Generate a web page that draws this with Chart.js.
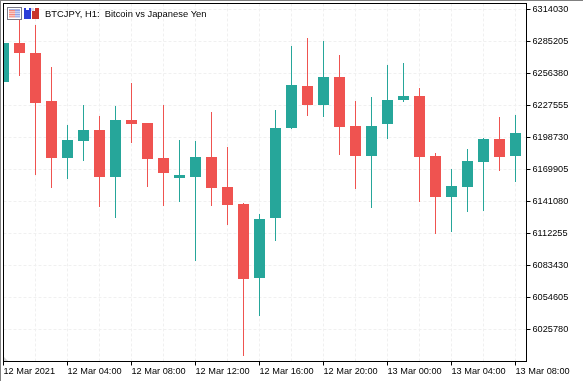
<!DOCTYPE html>
<html><head><meta charset="utf-8">
<style>
html,body{margin:0;padding:0;background:#fff;overflow:hidden}
#w{position:absolute;left:0;top:0;width:583px;height:381px}
canvas{display:block}
</style>
<script src="https://cdn.jsdelivr.net/npm/chart.js@4/dist/chart.umd.min.js"></script>
</head><body><div id="w"><canvas id="c" width="583" height="381"></canvas></div>
<script>
const chartTitle = 'BTCJPY, H1:  Bitcoin vs Japanese Yen';
const hours = [0,1,2,3,4,5,6,7,8,9,10,11,12,13,14,15,16,17,18,19,20,21,22,23,24,25,26,27,28,29,30,31,32];
const opens = [6248723,6283853,6274846,6231608,6180264,6195577,6205486,6163149,6214493,6211791,6180264,6162248,6163149,6181165,6154141,6138828,6072170,6126217,6207287,6245120,6228005,6253227,6209089,6182065,6210890,6232509,6236112,6182065,6145133,6154141,6176661,6197379,6182065];
const highs = [6285000,6311778,6300067,6262235,6209989,6228005,6218097,6227104,6247822,6211791,6228005,6196478,6195577,6221700,6190172,6139729,6129820,6223501,6281151,6288357,6285655,6273044,6231608,6235211,6264036,6265838,6243318,6184768,6170355,6188371,6198279,6217196,6218997];
const lows = [6246000,6254128,6164950,6153240,6161347,6177561,6136126,6126217,6193775,6154141,6137026,6140629,6087483,6137026,6119911,6001909,6037941,6105499,6206386,6218097,6217196,6183000,6152340,6135225,6197379,6230707,6140629,6111804,6113606,6131622,6132522,6168554,6158645];
const closes = [6283853,6274846,6229807,6180264,6196478,6205486,6163149,6214493,6210890,6179363,6166752,6164950,6181165,6153240,6137927,6071269,6125316,6207287,6246021,6228005,6253227,6208188,6182065,6209089,6232509,6236112,6181165,6145133,6155042,6177561,6197379,6181165,6202783];
const priceTicks = [6025780,6054605,6083430,6112255,6141080,6169905,6198730,6227555,6256380,6285205,6314030];
const timeTicks = [0,2,4,6,8,10,12,14,16,18,20,22,24,26,28,30,32];
const timeLabels = ['12 Mar 2021','','12 Mar 04:00','','12 Mar 08:00','','12 Mar 12:00','','12 Mar 16:00','','12 Mar 20:00','','13 Mar 00:00','','13 Mar 04:00','','13 Mar 08:00'];
const UP = '#26A69A', DOWN = '#EF5350';
const colours = opens.map((o,i)=> closes[i] >= o ? UP : DOWN);
const axisFont = {family:'"Liberation Sans"', size:9.2};

const overlay = {
  id:'overlay',
  afterDatasetsDraw(chart){
    const {ctx, chartArea:a} = chart;
    ctx.save();
    ctx.strokeStyle='#000'; ctx.lineWidth=1;
    ctx.strokeRect(a.left,a.top,a.right-a.left,a.bottom-a.top);
    ctx.fillStyle='#d6d6d6';
    ctx.beginPath();ctx.moveTo(4,357);ctx.lineTo(4,361);ctx.lineTo(8,361);ctx.closePath();ctx.fill();
    ctx.fillStyle='#fff';ctx.fillRect(7,7,15,13);
    ctx.strokeStyle='#7a7a86';ctx.strokeRect(7.5,7.5,14,12);
    ctx.fillStyle='#aab4e0';ctx.fillRect(9,9,11,1);
    [[10,'#f08a80','#8fa4e8'],[12,'#f4a096','#a4b4ec'],[14,'#f08a80','#8fa4e8'],[16,'#f4a096','#a4b4ec']].forEach(r=>{
      ctx.fillStyle=r[1];ctx.fillRect(9,r[0],6,1.5);
      ctx.fillStyle=r[2];ctx.fillRect(15,r[0],5,1.5);
    });
    ctx.fillStyle='#2c3fd8';ctx.fillRect(24,8,7,11);
    ctx.fillStyle='#c9342c';ctx.fillRect(32,11,7,8);ctx.fillRect(35,8,4,4);
    ctx.fillStyle='#d8d8e8';ctx.fillRect(31,8,3,3);
    ctx.fillStyle='#fff';ctx.fillRect(26,8,3,2);
    ctx.fillStyle='#000';ctx.font='9.4px "Liberation Sans"';ctx.textBaseline='alphabetic';ctx.textAlign='left';
    ctx.fillText(chartTitle,45,17);
    ctx.restore();
  }
};

new Chart(document.getElementById('c'),{
  type:'bar',
  data:{datasets:[
    {label:'Body',data:hours.map((h,i)=>({x:h,y:[opens[i],closes[i]]})),backgroundColor:colours,barThickness:11,borderWidth:0,inflateAmount:0,grouped:false,order:1},
    {label:'Wick',data:hours.map((h,i)=>({x:h,y:[lows[i],highs[i]]})),backgroundColor:colours,barThickness:1,borderWidth:0,inflateAmount:0,grouped:false,order:2}
  ]},
  plugins:[overlay],
  options:{
    responsive:false,animation:false,devicePixelRatio:1,
    layout:{padding:{left:3.5,top:3.5,right:0,bottom:0}},
    plugins:{legend:{display:false},tooltip:{enabled:false},title:{display:false}},
    scales:{
      x:{type:'linear',min:0,max:32.6875,offset:false,
        afterBuildTicks(s){s.ticks=timeTicks.map(v=>({value:v}));},
        afterFit(s){s.height=19.5;s.paddingLeft=0;s.paddingRight=0;},
        grid:{offset:false,color:'#f0f0f0',lineWidth:1,tickLength:4,tickColor:c=>c.index%2===0?'#000':'rgba(0,0,0,0)'},
        border:{display:false,dash:[3,2]},
        ticks:{autoSkip:false,maxRotation:0,minRotation:0,align:'start',padding:0,color:'#000',font:axisFont,
          callback:(v,i)=>timeLabels[i]}
      },
      y:{type:'linear',position:'right',min:5996955,max:6319435,
        afterBuildTicks(s){s.ticks=priceTicks.map(v=>({value:v}));},
        afterFit(s){s.width=56.5;s.paddingTop=0;s.paddingBottom=0;},
        grid:{color:'#f0f0f0',lineWidth:1,tickLength:4,tickColor:'#000'},
        border:{display:false,dash:[3,2]},
        ticks:{padding:2,color:'#000',font:axisFont,callback:v=>String(v)}
      }
    }
  }
});
</script>
<div style="position:absolute;left:0;top:0;width:583px;height:1px;background:#808080"></div>
<div style="position:absolute;left:0;top:0;width:1px;height:381px;background:#808080"></div>
</body></html>
